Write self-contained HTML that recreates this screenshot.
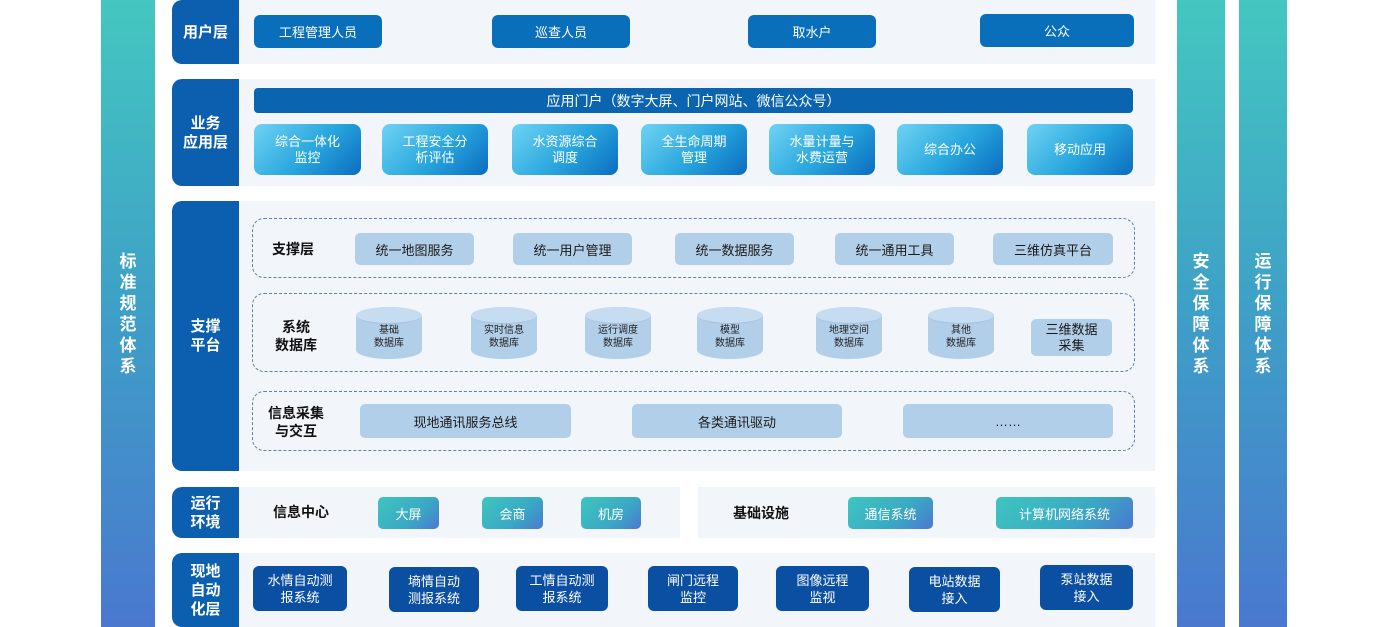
<!DOCTYPE html>
<html><head><meta charset="utf-8"><style>
*{margin:0;padding:0;box-sizing:border-box}
body{width:1389px;height:627px;background:#fff;position:relative;overflow:hidden;font-family:"Liberation Sans","Noto Sans CJK SC",sans-serif}
.a{position:absolute;display:flex;align-items:center;justify-content:center;text-align:center}
.vbar{background:linear-gradient(180deg,#44c7c0,#3e9fc7 50%,#4a78cf);color:#fff;font-weight:bold;font-size:17px;line-height:21px;flex-direction:column}
.tab{background:#0b5fae;color:#fff;font-weight:bold;font-size:15px;line-height:19px;border-radius:10px 0 0 10px}
.bg{background:#f2f5fa}
.ub{background:#0a6fba;color:#fff;font-size:13px;border-radius:6px}
.app{background:linear-gradient(135deg,#6fd3f3,#27a5dd 55%,#0b6cc0);color:#fff;font-size:13px;line-height:16px;border-radius:8px}
.dash{position:absolute;border:1.5px dashed #5f7fa8;border-radius:12px}
.sb{background:#b2cfea;color:#1a1a1a;font-size:13px;border-radius:5px}
.lb{color:#111;font-weight:bold;font-size:14px;line-height:18px}
.cyl{background:#b2cfea;border-radius:33px/9px;color:#222;font-size:10px;line-height:13px;padding-top:8px}
.cyl:before{content:"";position:absolute;left:0;top:0;width:100%;height:16px;border-radius:50%;background:#c6dcf0;border-bottom:1px solid #a3c2e0}
.tb{background:linear-gradient(135deg,#3ec5bf,#3aa9c4 60%,#4a79cf);color:#fff;font-size:13px;border-radius:5px}
.fb{background:#0b4fa3;color:#fff;font-size:13px;line-height:17px;border-radius:6px}
</style></head><body>
<div class="a vbar" style="left:101px;top:0;width:54px;height:627px"><span>标<br>准<br>规<br>范<br>体<br>系</span></div>
<div class="a vbar" style="left:1177px;top:0;width:48px;height:627px"><span>安<br>全<br>保<br>障<br>体<br>系</span></div>
<div class="a vbar" style="left:1239px;top:0;width:48px;height:627px"><span>运<br>行<br>保<br>障<br>体<br>系</span></div>

<div class="a bg" style="left:238px;top:0;width:917px;height:64px"></div>
<div class="a tab" style="left:172px;top:0;width:67px;height:64px">用户层</div>
<div class="a ub" style="left:254px;top:15px;width:128px;height:33px">工程管理人员</div>
<div class="a ub" style="left:492px;top:15px;width:138px;height:33px">巡查人员</div>
<div class="a ub" style="left:748px;top:15px;width:128px;height:33px">取水户</div>
<div class="a ub" style="left:980px;top:14px;width:154px;height:33px">公众</div>

<div class="a bg" style="left:238px;top:79px;width:917px;height:107px"></div>
<div class="a tab" style="left:172px;top:79px;width:67px;height:107px">业务<br>应用层</div>
<div class="a" style="left:254px;top:88px;width:879px;height:25px;background:#0b64b0;color:#fff;font-size:14px;border-radius:4px">应用门户（数字大屏、门户网站、微信公众号）</div>
<div class="a app" style="left:254px;top:124px;width:107px;height:51px">综合一体化<br>监控</div>
<div class="a app" style="left:382px;top:124px;width:106px;height:51px">工程安全分<br>析评估</div>
<div class="a app" style="left:512px;top:124px;width:106px;height:51px">水资源综合<br>调度</div>
<div class="a app" style="left:641px;top:124px;width:106px;height:51px">全生命周期<br>管理</div>
<div class="a app" style="left:769px;top:124px;width:106px;height:51px">水量计量与<br>水费运营</div>
<div class="a app" style="left:897px;top:124px;width:106px;height:51px">综合办公</div>
<div class="a app" style="left:1027px;top:124px;width:106px;height:51px">移动应用</div>

<div class="a bg" style="left:238px;top:201px;width:917px;height:270px"></div>
<div class="a tab" style="left:172px;top:201px;width:67px;height:270px">支撑<br>平台</div>
<div class="dash" style="left:252px;top:218px;width:883px;height:60px"></div>
<div class="dash" style="left:252px;top:293px;width:883px;height:79px"></div>
<div class="dash" style="left:252px;top:391px;width:883px;height:60px"></div>
<div class="a lb" style="left:258px;top:238px;width:70px;height:22px">支撑层</div>
<div class="a sb" style="left:355px;top:233px;width:119px;height:32px">统一地图服务</div>
<div class="a sb" style="left:513px;top:233px;width:119px;height:32px">统一用户管理</div>
<div class="a sb" style="left:675px;top:233px;width:119px;height:32px">统一数据服务</div>
<div class="a sb" style="left:835px;top:233px;width:119px;height:32px">统一通用工具</div>
<div class="a sb" style="left:993px;top:233px;width:120px;height:32px">三维仿真平台</div>
<div class="a lb" style="left:258px;top:316px;width:76px;height:40px">系统<br>数据库</div>
<div class="a cyl" style="left:356px;top:307px;width:66px;height:52px"><span style="position:relative">基础<br>数据库</span></div>
<div class="a cyl" style="left:471px;top:307px;width:66px;height:52px"><span style="position:relative">实时信息<br>数据库</span></div>
<div class="a cyl" style="left:585px;top:307px;width:66px;height:52px"><span style="position:relative">运行调度<br>数据库</span></div>
<div class="a cyl" style="left:697px;top:307px;width:66px;height:52px"><span style="position:relative">模型<br>数据库</span></div>
<div class="a cyl" style="left:816px;top:307px;width:66px;height:52px"><span style="position:relative">地理空间<br>数据库</span></div>
<div class="a cyl" style="left:928px;top:307px;width:66px;height:52px"><span style="position:relative">其他<br>数据库</span></div>
<div class="a sb" style="left:1031px;top:319px;width:81px;height:37px;line-height:16px">三维数据<br>采集</div>
<div class="a lb" style="left:256px;top:402px;width:80px;height:40px">信息采集<br>与交互</div>
<div class="a sb" style="left:360px;top:404px;width:211px;height:34px">现地通讯服务总线</div>
<div class="a sb" style="left:632px;top:404px;width:210px;height:34px">各类通讯驱动</div>
<div class="a sb" style="left:903px;top:404px;width:210px;height:34px">……</div>

<div class="a bg" style="left:238px;top:487px;width:442px;height:51px"></div>
<div class="a bg" style="left:698px;top:487px;width:457px;height:51px"></div>
<div class="a tab" style="left:172px;top:487px;width:67px;height:51px">运行<br>环境</div>
<div class="a lb" style="left:262px;top:502px;width:78px;height:20px">信息中心</div>
<div class="a tb" style="left:378px;top:497px;width:61px;height:32px">大屏</div>
<div class="a tb" style="left:482px;top:497px;width:61px;height:32px">会商</div>
<div class="a tb" style="left:581px;top:497px;width:60px;height:32px">机房</div>
<div class="a lb" style="left:722px;top:503px;width:78px;height:20px">基础设施</div>
<div class="a tb" style="left:848px;top:497px;width:85px;height:32px">通信系统</div>
<div class="a tb" style="left:996px;top:497px;width:137px;height:32px">计算机网络系统</div>

<div class="a bg" style="left:238px;top:553px;width:917px;height:74px"></div>
<div class="a tab" style="left:172px;top:553px;width:67px;height:74px">现地<br>自动<br>化层</div>
<div class="a fb" style="left:253px;top:566px;width:94px;height:45px">水情自动测<br>报系统</div>
<div class="a fb" style="left:389px;top:567px;width:90px;height:45px">墒情自动<br>测报系统</div>
<div class="a fb" style="left:516px;top:566px;width:92px;height:45px">工情自动测<br>报系统</div>
<div class="a fb" style="left:648px;top:566px;width:90px;height:45px">闸门远程<br>监控</div>
<div class="a fb" style="left:776px;top:566px;width:93px;height:45px">图像远程<br>监视</div>
<div class="a fb" style="left:909px;top:567px;width:91px;height:45px">电站数据<br>接入</div>
<div class="a fb" style="left:1040px;top:565px;width:93px;height:45px">泵站数据<br>接入</div>
</body></html>
